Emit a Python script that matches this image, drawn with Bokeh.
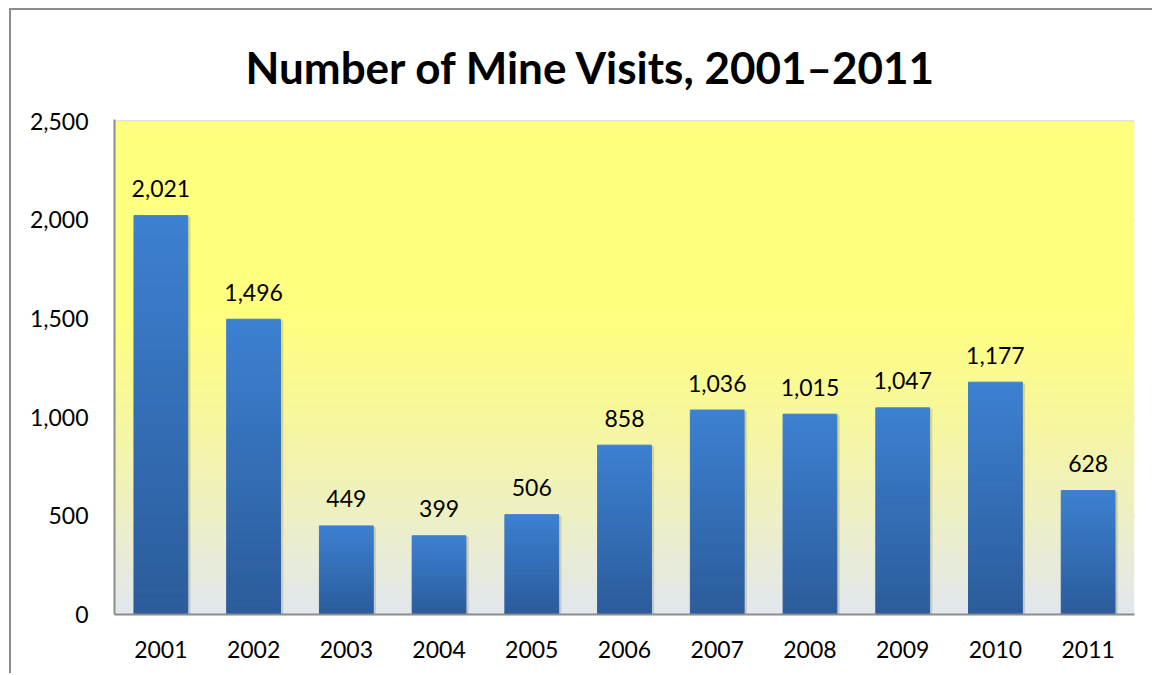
import numpy as np
from bokeh.plotting import figure
from bokeh.models import FactorRange, Range1d, NumeralTickFormatter, ColumnDataSource, FixedTicker
from bokeh.transform import dodge
from bokeh.core.properties import value
from bokeh.embed import file_html
from bokeh.resources import INLINE

years = ["2001", "2002", "2003", "2004", "2005", "2006", "2007", "2008", "2009", "2010", "2011"]
visits = [2021, 1496, 449, 399, 506, 858, 1036, 1015, 1047, 1177, 628]
value_labels = ["2,021", "1,496", "449", "399", "506", "858", "1,036", "1,015", "1,047", "1,177", "628"]
y_ticks = [0, 500, 1000, 1500, 2000, 2500]
title_text = "Number of Mine Visits, 2001\u20132011"

FONT = "Lato"
BAR_W = 0.58

p = figure(
    x_range=FactorRange(*years, range_padding=0),
    y_range=Range1d(0, 2508),
    width=1143, height=665,
    output_backend="svg", toolbar_location=None,
    min_border_left=103, min_border_right=20, min_border_top=109, min_border_bottom=61,
    title=title_text,
)
p.margin = (8, 0, 0, 9)
p.styles = {"border-left": "2px solid #8c8c8c", "border-top": "2px solid #8c8c8c"}
p.outline_line_color = None
p.background_fill_color = "white"
p.border_fill_color = "white"

# plot-area gradient background
stops = [(0.0, (226, 231, 239)), (0.2, (238, 240, 196)), (0.4, (247, 247, 158)),
         (0.6, (255, 255, 128)), (1.0, (255, 255, 128))]
n = 200
img = np.zeros((n, 1), dtype=np.uint32)
view = img.view(dtype=np.uint8).reshape((n, 1, 4))
fr = np.linspace(0, 1, n)
sp = [s[0] for s in stops]
for c in range(3):
    view[:, 0, c] = np.interp(fr, sp, [s[1][c] for s in stops]).astype(np.uint8)
view[:, 0, 3] = 255
p.image_rgba(image=[img], x=0, y=0, dw=len(years), dh=y_ticks[-1])

# bar shadows
p.vbar(x=dodge("x", 0.03, range=p.x_range), top="top", bottom=0, width=BAR_W,
       source=ColumnDataSource(dict(x=years, top=[v - 6 for v in visits])),
       fill_color="black", fill_alpha=0.13, line_color=None)

# bars with vertical gradient
N = 40
c_bot = np.array([44, 92, 155])
c_top = np.array([61, 129, 210])
xs, bots, tops, cols = [], [], [], []
for yr, v in zip(years, visits):
    for k in range(N):
        t = (k + 0.5) / N
        col = (c_bot + (c_top - c_bot) * t).astype(int)
        xs.append(yr)
        bots.append(v * k / N)
        tops.append(v * (k + 1) / N)
        cols.append("#%02x%02x%02x" % tuple(col))
p.vbar(x="x", top="top", bottom="bottom", width=BAR_W, fill_color="c", line_color="c",
       line_width=1, source=ColumnDataSource(dict(x=xs, top=tops, bottom=bots, c=cols)))

# value labels
p.text(x=years, y=visits, text=value_labels, text_align="center", text_baseline="alphabetic",
       y_offset=-27, text_font=value(FONT), text_font_size="23px", text_color="black")

# axes
p.yaxis.ticker = FixedTicker(ticks=y_ticks)
p.yaxis.formatter = NumeralTickFormatter(format="0,0")
for ax in (p.xaxis[0], p.yaxis[0]):
    ax.axis_line_color = "#8c8c8c"
    ax.axis_line_width = 2
    ax.major_tick_line_color = None
    ax.minor_tick_line_color = None
    ax.major_label_text_font = FONT
    ax.major_label_text_font_size = "23px"
    ax.major_label_text_color = "black"
p.yaxis.major_label_standoff = 20
p.xaxis.major_label_standoff = 20

p.xgrid.grid_line_color = None
p.ygrid.grid_line_color = "#8c8c8c"
p.ygrid.grid_line_width = 1.6
p.ygrid.ticker = FixedTicker(ticks=y_ticks)

p.title.align = "left"
p.title.offset = 131
p.title.standoff = 54
p.title.text_font = FONT
p.title.text_font_size = "44px"
p.title.text_font_style = "bold"
p.title.text_color = "black"

open("out.html", "w").write(file_html(p, INLINE))
